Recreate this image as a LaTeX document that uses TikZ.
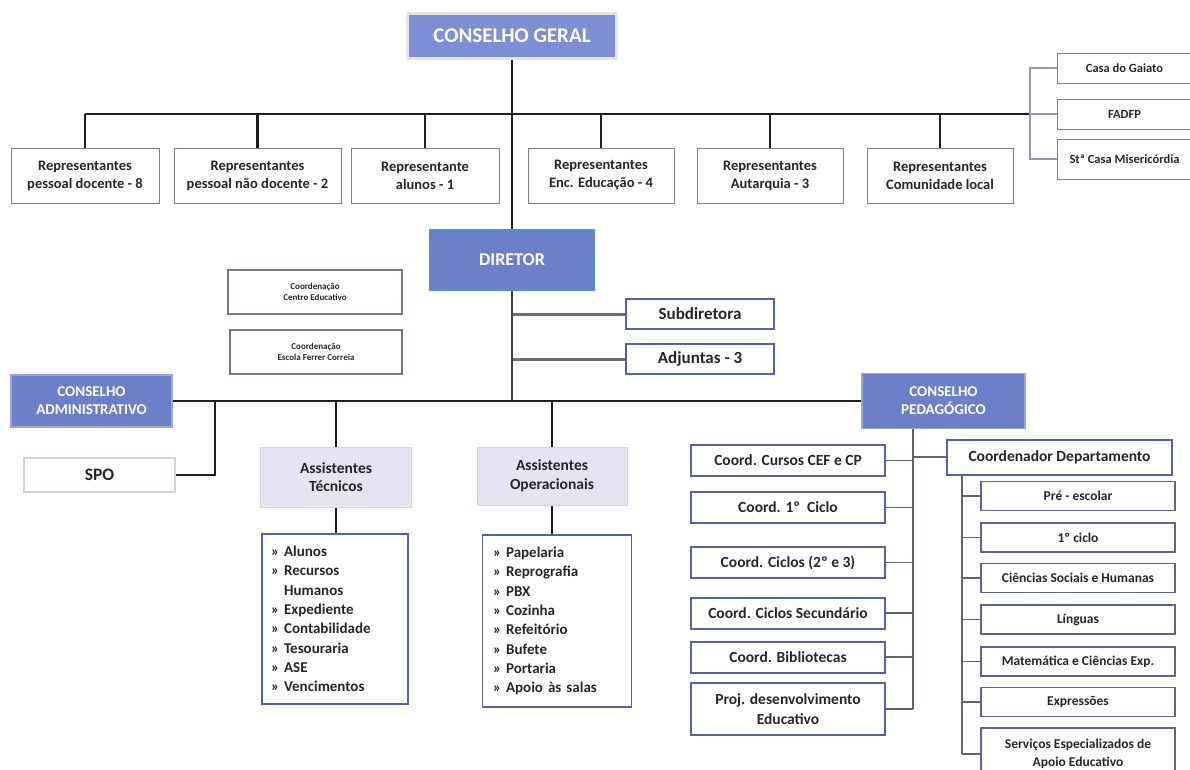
\documentclass[tikz,border=0pt]{standalone}
\usepackage{fontspec}
\setmainfont{Carlito}
\usetikzlibrary{positioning}
\definecolor{hdblue}{RGB}{108,128,202}
\definecolor{cgblue}{RGB}{125,142,212}
\definecolor{dirline}{RGB}{70,150,215}
\definecolor{lav}{RGB}{228,228,243}
\definecolor{boxblue}{RGB}{85,98,165}
\definecolor{repgray}{RGB}{125,125,135}
\definecolor{mauve}{RGB}{135,115,128}
\definecolor{spoline}{RGB}{218,205,220}
\definecolor{txt}{RGB}{38,38,42}
\definecolor{treegray}{RGB}{105,95,115}
\definecolor{stubgray}{RGB}{115,108,118}
\definecolor{brkline}{RGB}{165,145,175}
\definecolor{depline}{RGB}{95,100,140}
\tikzset{every node/.append style={text=txt, inner sep=0pt, align=center}}
\tikzset{
  head/.style={fill=hdblue, draw=hdblue!70, line width=1.5pt, text=white!92!lav,
    font=\fontsize{15}{18}\selectfont\bfseries},
  repbox/.style={draw=repgray, line width=1pt, fill=white, minimum height=55pt,
    font=\fontsize{14.5}{18}\selectfont\bfseries},
  sidebox/.style={draw=repgray, line width=1pt, minimum width=135pt, minimum height=30pt,
    font=\fontsize{12.5}{15}\selectfont\bfseries},
  coordbox/.style={draw=mauve, line width=2.5pt, minimum height=44pt,
    font=\fontsize{9}{10.5}\selectfont\bfseries},
  bluebox/.style={draw=boxblue, line width=2pt, font=\fontsize{15.5}{20}\selectfont\bfseries},
  lightbox/.style={fill=lav, draw=lav!85!gray, line width=1pt,
    font=\fontsize{15.5}{18.5}\selectfont\bfseries},
  listbox/.style={draw=boxblue, line width=1.5pt, align=left,
    font=\fontsize{15}{19.3}\selectfont\bfseries},
  depbox/.style={draw=depline, line width=1.5pt, minimum width=194pt,
    font=\fontsize{13.5}{18}\selectfont\bfseries},
  link/.style={draw=black!88, line width=2.6pt},
  graylink/.style={draw=stubgray, line width=3pt},
  treelink/.style={draw=treegray, line width=1.4pt},
  brklink/.style={draw=brkline, line width=1.3pt}
}
\begin{document}
\begin{tikzpicture}[x=1pt,y=-1pt]
\useasboundingbox (0,0) rectangle (1190,769);

% conselho geral e representantes
\node[head, fill=cgblue, draw=black!10, line width=3pt, minimum width=209pt, minimum height=45pt,
  font=\fontsize{21}{24}\selectfont\bfseries] (cg) at (512,35.5) {CONSELHO GERAL};
\foreach \n/\x/\w/\t in {r1/85/148/{Representantes\\pessoal docente - 8},
  r2/257.5/167/{Representantes\\pessoal não docente - 2},
  r3/425/148/{Representante\\alunos - 1},
  r4/601/146/{Representantes\\Enc. Educação - 4},
  r5/770/146/{Representantes\\Autarquia - 3},
  r6/940/146/{Representantes\\Comunidade local}}
  \node[repbox, minimum width={\w pt}] (\n) at (\x,175.5) {\t};
\node[sidebox] (casa) at (1124.5,68) {Casa do Gaiato};
\node[sidebox] (fadfp) at (1124.5,114) {FADFP};
\node[sidebox, minimum height=40pt] (stc) at (1124.5,159) {Stª Casa Misericórdia};

\coordinate (brk) at (1030,114);
\draw[link] (r1.north |- brk) -- (brk);
\foreach \n in {r1,r2,r3,r4,r5,r6}
  \draw[link] (\n.north |- brk) -- (\n.north);
\draw[brklink] (casa.west) -| (brk) |- (stc.west);
\draw[brklink] (brk) -- (fadfp.west);

% direcao
\node[head, draw=dirline, minimum width=165pt, minimum height=60pt,
  font=\fontsize{18}{21}\selectfont\bfseries] (dir) at (512,260) {DIRETOR};
\draw[link] (cg.south) -- (dir.north);
\node[coordbox, minimum width=174pt] (ce) at (315,292) {Coordenação\\Centro Educativo};
\node[coordbox, minimum width=172pt] (fe) at (316,352) {Coordenação\\Escola Ferrer Correia};
\node[bluebox, minimum width=148pt, minimum height=30pt, font=\fontsize{17}{20}\selectfont\bfseries]
  (sub) at (700,314) {Subdiretora};
\node[bluebox, minimum width=148pt, minimum height=30pt, font=\fontsize{17}{20}\selectfont\bfseries]
  (adj) at (700,359) {Adjuntas - 3};
\draw[graylink] (dir.south |- sub.west) -- (sub.west);
\draw[graylink] (dir.south |- adj.west) -- (adj.west);

\node[head, minimum width=161pt, minimum height=52pt] (ca) at (91.5,401) {CONSELHO\\ADMINISTRATIVO};
\node[head, minimum width=163pt, minimum height=55pt] (cp) at (943.5,401) {CONSELHO\\PEDAGÓGICO};
\draw[link, draw=black!75] (dir.south) -- (dir.south |- ca.east);
\draw[link] (ca.east) -- (cp.west);

% servicos
\node[draw=spoline, line width=2pt, minimum width=151pt, minimum height=34pt,
  font=\fontsize{17.5}{20}\selectfont\bfseries] (spo) at (99.5,475) {SPO};
\coordinate (spoj) at (215,401);
\draw[link] (spoj) |- (spo.east);
\node[lightbox, minimum width=151pt, minimum height=60pt] (at) at (336,477) {Assistentes\\Técnicos};
\node[lightbox, minimum width=150pt, minimum height=58pt] (ao) at (552,476) {Assistentes\\Operacionais};
\draw[link] (at.north |- ca.east) -- (at.north);
\draw[link] (ao.north |- ca.east) -- (ao.north);
\node[listbox, minimum width=146pt, minimum height=170pt, text width=128pt] (l1) at (335,619)
  {» Alunos\\» Recursos\\\phantom{» }Humanos\\» Expediente\\» Contabilidade\\» Tesouraria\\» ASE\\» Vencimentos};
\node[listbox, minimum width=149pt, minimum height=172pt, text width=128pt] (l2) at (557,621)
  {» Papelaria\\» Reprografia\\» PBX\\» Cozinha\\» Refeitório\\» Bufete\\» Portaria\\» Apoio às salas};
\draw[link] (at.south) -- (at.south |- l1.north);
\draw[link] (ao.south) -- (ao.south |- l2.north);

% conselho pedagogico
\foreach \n/\y/\t in {c1/460.5/{Coord. Cursos CEF e CP}, c2/507.5/{Coord. 1º\ \ Ciclo},
  c3/562.5/{Coord. Ciclos (2º e 3)}, c4/613/{Coord. Ciclos Secundário}, c5/657/{Coord. Bibliotecas}}
  \node[bluebox, minimum width=194pt, minimum height=31pt] (\n) at (788,\y) {\t};
\node[bluebox, minimum width=194pt, minimum height=52pt] (c6) at (788,709) {Proj. desenvolvimento\\Educativo};
\node[bluebox, minimum width=225pt, minimum height=35pt] (cd) at (1059.5,457) {Coordenador Departamento};
\foreach \n/\y/\t in {d1/496/{Pré - escolar}, d2/537.5/{1º ciclo}, d3/578/{Ciências Sociais e Humanas},
  d4/619.5/{Línguas}, d5/661.5/{Matemática e Ciências Exp.}, d6/702/{Expressões}}
  \node[depbox, minimum height=29pt] (\n) at (1078,\y) {\t};
\node[depbox, minimum height=52pt] (d7) at (1078,754) {Serviços Especializados de\\Apoio Educativo};

\coordinate (cpj) at (913,0);
\draw[treelink] (cp.south -| cpj) -- (cpj |- c6.east);
\foreach \n in {c1,c2,c3,c4,c5,c6}
  \draw[treelink] (\n.east) -- (\n.east -| cpj);
\draw[treelink] (cd.west -| cpj) -- (cd.west);
\coordinate (cdj) at (962,0);
\draw[treelink] (cd.south -| cdj) -- (cdj |- d7.west);
\foreach \n in {d1,d2,d3,d4,d5,d6,d7}
  \draw[treelink] (\n.west -| cdj) -- (\n.west);
\end{tikzpicture}
\end{document}
